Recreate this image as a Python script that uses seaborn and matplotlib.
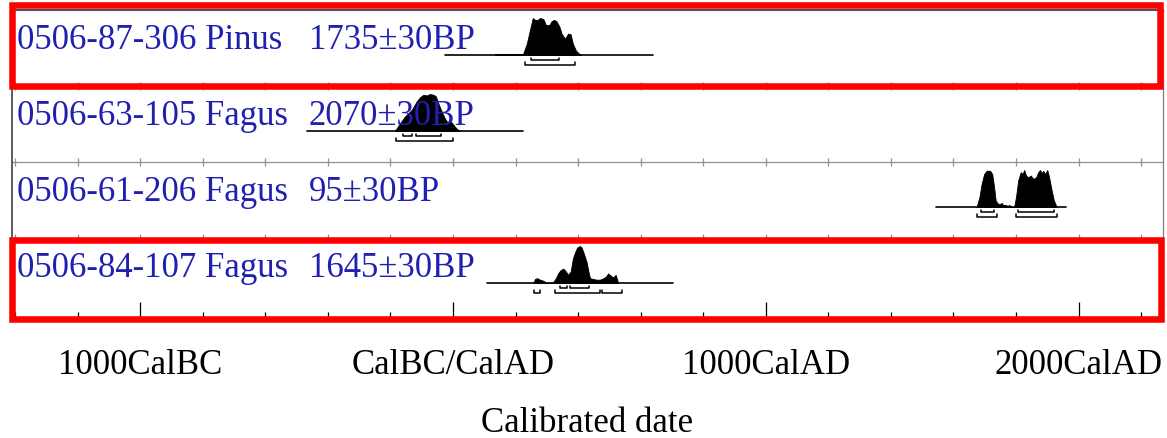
import numpy as np
import pandas as pd
import matplotlib
matplotlib.use('Agg')
import matplotlib.pyplot as plt
import matplotlib.transforms as mtransforms
from matplotlib.patches import Rectangle
import seaborn as sns

# =========================
# DANE (odczytane z wykresu OxCal)
# =========================

sample_names = ['0506-87-306 Pinus', '0506-63-105 Fagus',
                '0506-61-206 Fagus', '0506-84-107 Fagus']
sample_dates = ['1735±30BP', '2070±30BP', '95±30BP', '1645±30BP']

# zakres linii bazowej (lata kalendarzowe, AD dodatnie)
range_start = [-26, -467, 1544, 110]
range_end = [639, 224, 1959, 704]

# rozkład prawdopodobieństwa (względna wysokość)
pinus_years = [135, 224, 236, 246, 255, 262, 271, 278, 289, 297, 308, 315,
               323, 331, 340, 347, 358, 368, 376, 383, 393, 404, 411]
pinus_dens = [0.03, 0.03, 0.31, 0.68, 1.00, 0.95, 0.95, 1.00, 0.97, 0.81,
              0.81, 0.91, 0.95, 0.91, 0.77, 0.58, 0.44, 0.58, 0.56, 0.31,
              0.12, 0.03, 0.0]

fagus63_years = [-186, -170, -154, -132, -116, -106, -95, -84, -74, -63,
                 -55, -47, -36, -26, -15, -8, 1, 12, 22]
fagus63_dens = [0, 0.20, 0.39, 0.57, 0.80, 0.91, 0.98, 0.96, 1.0, 0.98,
                0.94, 0.75, 0.52, 0.34, 0.20, 0.27, 0.17, 0.06, 0]

fagus61_years = [1674, 1683, 1690, 1698, 1706, 1717, 1724, 1730, 1735, 1740,
                 1747, 1754, 1759, 1768, 1773, 1778, 1786, 1794, 1800, 1807,
                 1815, 1821, 1826, 1832, 1839, 1847, 1855, 1864, 1871, 1877,
                 1882, 1887, 1893, 1900, 1906, 1914, 1921, 1930]
fagus61_dens = [0, 0.27, 0.62, 0.89, 0.98, 0.98, 0.89, 0.54, 0.18, 0.11,
                0.07, 0.11, 0.05, 0.06, 0.02, 0.06, 0, 0, 0.27, 0.72,
                0.94, 0.89, 1.0, 0.85, 0.80, 0.85, 0.76, 0.80, 0.94, 1.0,
                0.91, 0.98, 0.89, 1.0, 0.80, 0.45, 0.18, 0]

fagus84_years = [257, 262, 269, 278, 289, 300, 317, 322, 329, 336, 344, 353,
                 361, 368, 376, 383, 390, 397, 406, 411, 419, 427, 433, 438,
                 447, 459, 470, 481, 489, 496, 504, 512, 520, 528]
fagus84_dens = [0, 0.11, 0.13, 0.09, 0.06, 0, 0, 0.05, 0.13, 0.26, 0.35,
                0.39, 0.31, 0.22, 0.31, 0.65, 0.83, 0.96, 1.0, 0.96, 0.78,
                0.57, 0.31, 0.13, 0.11, 0.09, 0.09, 0.13, 0.17, 0.26, 0.20,
                0.15, 0.22, 0]

all_years = [pinus_years, fagus63_years, fagus61_years, fagus84_years]
all_dens = [pinus_dens, fagus63_dens, fagus61_dens, fagus84_dens]

# przedziały 68.2% i 95.4%
ranges_68 = [[(248, 340)],
             [(-159, -132), (-118, -39)],
             [(1688, 1731), (1808, 1920)],
             [(342, 365), (374, 436)]]
ranges_95 = [[(230, 390)],
             [(-182, -1)],
             [(1676, 1740), (1799, 1932)],
             [(259, 278), (326, 470), (475, 541)]]

major_ticks = [-1000, 0, 1000, 2000]
major_labels = ['1000CalBC', 'CalBC/CalAD', '1000CalAD', '2000CalAD']

# =========================
# UKŁAD
# =========================

W, H = 1167, 438
sns.set_style('white')
plt.rcParams['font.family'] = ['Liberation Serif', 'DejaVu Serif']
plt.rcParams['text.color'] = 'black'
plt.rcParams['xtick.color'] = 'black'
plt.rcParams['axes.labelcolor'] = 'black'

fig = plt.figure(figsize=(W / 100, H / 100), dpi=100)
ax = fig.add_axes([12 / W, 1 - 317 / H, 1151 / W, 307 / H])
ax.set_xlim(-1410, 2270)
ax.set_ylim(317, 10)  # wiersze liczone od góry

row_top = [10, 86, 162, 238]
peak_h = 37

# linie bazowe przez seaborn
base_df = pd.DataFrame({
    'year': [v for i in range(4) for v in (range_start[i], range_end[i])],
    'y': [row_top[i] + 45 for i in range(4) for _ in range(2)],
    'row': [i for i in range(4) for _ in range(2)],
})
sns.lineplot(data=base_df, x='year', y='y', units='row', estimator=None,
             color='black', lw=1.2, ax=ax, zorder=3)

for i in range(4):
    base = row_top[i] + 45
    yrs = np.array(all_years[i])
    dens = np.array(all_dens[i])
    ax.fill_between(yrs, base, base - dens * peak_h, color='black',
                    lw=0.6, zorder=3)
    for lo, hi in ranges_68[i]:
        yb = base + 5
        ax.plot([lo, lo, hi, hi], [yb - 2.5, yb, yb, yb - 2.5],
                color='black', lw=1.1, zorder=3)
    for lo, hi in ranges_95[i]:
        yb = base + 9.5
        ax.plot([lo, lo, hi, hi], [yb - 2.5, yb, yb, yb - 2.5],
                color='black', lw=1.1, zorder=3)

# podpisy wierszy
trans = mtransforms.blended_transform_factory(ax.transAxes, ax.transData)
for i in range(4):
    ax.text(5 / 1151, row_top[i] + 39, sample_names[i], transform=trans,
            fontsize=25, color='#2020b0', va='baseline', ha='left', zorder=5)
    ax.text(297 / 1151, row_top[i] + 39, sample_dates[i], transform=trans,
            fontsize=25, color='#2020b0', va='baseline', ha='left', zorder=5)

# linie podziału wierszy z kreskami
minor_ticks = np.arange(-1400, 2201, 200)
for yd in row_top[1:]:
    ax.axhline(yd, color='#909090', lw=0.9, zorder=1)
    ax.vlines(minor_ticks, yd - 4, yd + 4, color='#909090', lw=0.9, zorder=1)

# oś X
ax.set_xticks(major_ticks)
ax.set_xticklabels(major_labels, fontsize=25, color='black')
ax.set_xticks(minor_ticks, minor=True)
ax.tick_params(axis='x', which='major', direction='in', length=10.8,
               width=0.9, color='black', pad=23, bottom=True)
ax.tick_params(axis='x', which='minor', direction='in', length=3.6,
               width=0.9, color='black', bottom=True)
ax.set_yticks([])
ax.set_ylabel('')
ax.set_xlabel('Calibrated date', fontsize=25, labelpad=18, color='black')

ax.spines['top'].set_color('#505050')
ax.spines['top'].set_linewidth(1.5)
ax.spines['left'].set_color('#404040')
ax.spines['left'].set_linewidth(1.2)
ax.spines['right'].set_color('#808080')
ax.spines['right'].set_linewidth(0.9)
ax.spines['bottom'].set_color('black')
ax.spines['bottom'].set_linewidth(0.9)

# czerwone ramki wyróżnienia
for x0, y0, x1, y1 in [(11.7, 5, 1160, 85.5), (12, 239.7, 1160.5, 319)]:
    fig.add_artist(Rectangle((x0 / W, 1 - y1 / H), (x1 - x0) / W, (y1 - y0) / H,
                             transform=fig.transFigure, fill=False,
                             ec='#ff0000', lw=4.7, zorder=10))

fig.savefig('out.png', dpi=100)
